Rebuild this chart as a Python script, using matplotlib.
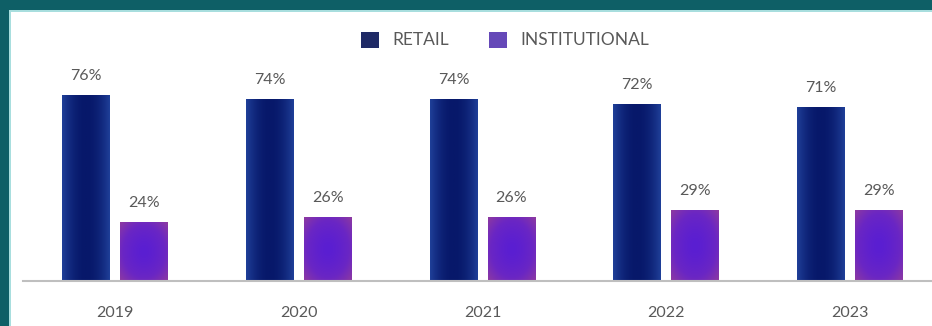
import numpy as np
import matplotlib.pyplot as plt
from matplotlib.patches import Patch, Rectangle
from matplotlib.colors import LinearSegmentedColormap

years = ['2019', '2020', '2021', '2022', '2023']
retail = [76, 74, 74, 72, 71]
institutional = [24, 26, 26, 29, 29]

plt.rcParams['font.family'] = ['Lato', 'DejaVu Sans']
text_color = '#595959'
teal = '#0e5f66'

fig = plt.figure(figsize=(9.32, 3.26), dpi=100)
fig.patch.set_facecolor('white')

# teal frame: band across the top and a strip down the left side
fig.patches.append(Rectangle((0, 1 - 10 / 326), 1, 10 / 326, transform=fig.transFigure,
                             facecolor=teal, edgecolor='none', zorder=0))
fig.patches.append(Rectangle((0, 0), 9 / 932, 1, transform=fig.transFigure,
                             facecolor=teal, edgecolor='none', zorder=0))
fig.patches.append(Rectangle((9 / 932, 0), 2 / 932, 1 - 10 / 326, transform=fig.transFigure,
                             facecolor='#a8dede', edgecolor='none', zorder=0))
fig.patches.append(Rectangle((9 / 932, 1 - 12 / 326), 1, 2 / 326, transform=fig.transFigure,
                             facecolor='#a8dede', edgecolor='none', zorder=0))

ax = fig.add_axes([23 / 932, 45 / 326, 1 - 23 / 932, 244.7 / 326])
ax.set_facecolor('none')

x = np.arange(len(years))
w = 0.26
off = 0.158
b1 = ax.bar(x - off, retail, w, color='#0b1f6e', zorder=2)
b2 = ax.bar(x + off, institutional, w, color='#5c1fd0', zorder=2)

retail_cmap = LinearSegmentedColormap.from_list('r', ['#07186a', '#1f3f98'])
inst_cmap = LinearSegmentedColormap.from_list('i', ['#5a1ed2', '#6a26c4', '#8e3aa0'])


def shade(bars, cmap, radial):
    # fill each bar with a gradient that gets lighter toward the edges
    gx = np.abs(np.linspace(-1, 1, 60))
    gy = np.abs(np.linspace(-1, 1, 120))
    for p in bars:
        if radial:
            g = np.sqrt((gx[None, :] ** 2 + gy[:, None] ** 2) / 2) ** 1.5
        else:
            g = np.repeat(gx[None, :] ** 2, 120, axis=0)
        ax.imshow(g, cmap=cmap, aspect='auto', zorder=3, interpolation='bilinear',
                  extent=(p.get_x(), p.get_x() + p.get_width(), 0, p.get_height()))


shade(b1, retail_cmap, False)
shade(b2, inst_cmap, True)

for bars, vals in ((b1, retail), (b2, institutional)):
    for p, v in zip(bars, vals):
        ax.annotate(f'{v}%', (p.get_x() + p.get_width() / 2, v), xytext=(0, 9),
                    textcoords='offset points', ha='center', va='bottom',
                    fontsize=11.5, color=text_color)

ax.set_xlim(-0.5, 4.446)
ax.set_ylim(0, 100)
ax.set_xticks(x)
ax.set_xticklabels(years, fontsize=11.5, color=text_color)
ax.tick_params(axis='x', length=0, pad=18)
ax.set_yticks([])
for s in ('top', 'right', 'left'):
    ax.spines[s].set_visible(False)
ax.spines['bottom'].set_color('#bfbfbf')
ax.spines['bottom'].set_linewidth(1.5)
ax.spines['bottom'].set_zorder(4)

handles = [Patch(facecolor='#1f2a66', label='RETAIL'),
           Patch(facecolor='#6548b8', label='INSTITUTIONAL')]
leg = fig.legend(handles=handles, loc='center', bbox_to_anchor=(505 / 932, 1 - 40 / 326),
                 ncol=2, frameon=False, fontsize=12.5, handlelength=1.05, handleheight=1.05,
                 columnspacing=2.3, handletextpad=0.75)
for t in leg.get_texts():
    t.set_color(text_color)

fig.savefig('out.png', dpi=100)
